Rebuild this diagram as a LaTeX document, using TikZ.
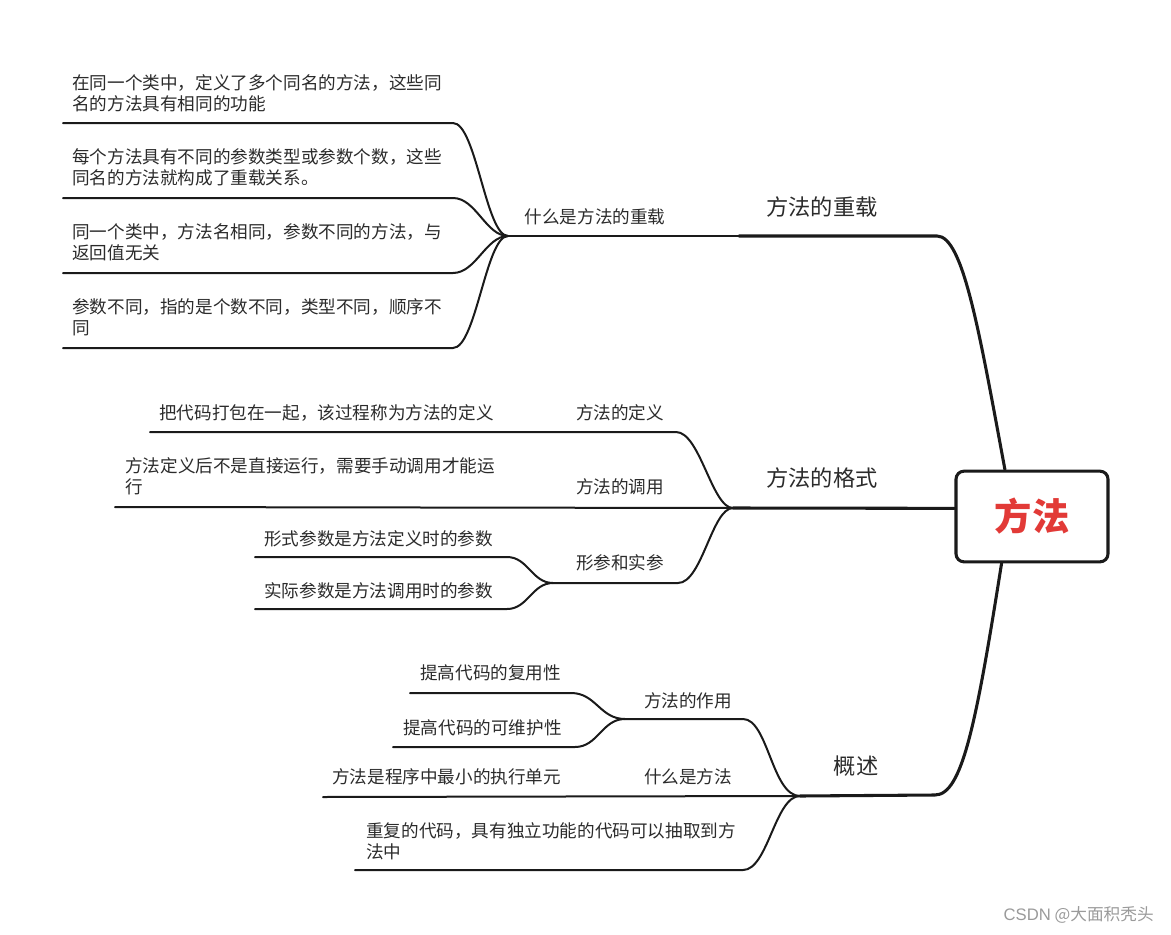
\documentclass[tikz,border=0pt]{standalone}
\usepackage{fontspec}
\setmainfont{Noto Sans CJK SC}
\newfontfamily\wmfont{Liberation Sans}
\definecolor{linec}{HTML}{1A1A1A}
\definecolor{txt}{HTML}{2B2B2B}
\definecolor{rootred}{RGB}{226,58,55}
\definecolor{wmgray}{HTML}{9A9A9A}
\begin{document}
\begin{tikzpicture}[x=0.75pt,y=-0.75pt,
  mainline/.style={line width=2.3pt, draw=linec, line cap=round},
  subline/.style={line width=1.5pt, draw=linec, line cap=round},
  leaf/.style={font=\fontsize{13.2}{15.75}\selectfont, text=txt, inner sep=0pt, anchor=west, align=left},
  lbl/.style={font=\fontsize{13.2}{15.75}\selectfont, text=txt, inner sep=0pt},
  biglbl/.style={font=\fontsize{16.7}{20}\selectfont, text=txt, inner sep=0pt},
  rootbox/.style={draw=linec, line width=2.3pt, rounded corners=6pt, fill=white,
    minimum width=114pt, minimum height=68pt, inner sep=0pt,
    font=\fontsize{28}{32}\selectfont\bfseries, text=rootred}]
\useasboundingbox (0,0) rectangle (1171,935);

% ---------- root ----------
\node[rootbox] (root) at (1032,516.5) {方法};

% ---------- coordinates ----------
% branch 1
\coordinate (b1c) at (937,236);
\coordinate (b1m) at (739,236);
\coordinate (j1) at (508,236);
\coordinate (l1a) at (453,123); \coordinate (l1b) at (63,123);
\coordinate (l2a) at (453,198); \coordinate (l2b) at (63,198);
\coordinate (l3a) at (453,273); \coordinate (l3b) at (63,273);
\coordinate (l4a) at (453,348); \coordinate (l4b) at (63,348);
% branch 2
\coordinate (j2) at (733,508);
\coordinate (d1) at (676,432); \coordinate (d1b) at (150,432);
\coordinate (d2b) at (115,507);
\coordinate (d3) at (678,583); \coordinate (d3j) at (553,583);
\coordinate (p1) at (507,557); \coordinate (p1b) at (255,557);
\coordinate (p2) at (507,609); \coordinate (p2b) at (255,609);
% branch 3
\coordinate (b3c) at (935,795);
\coordinate (j3) at (800,796);
\coordinate (z1) at (743,719); \coordinate (z1j) at (625,719);
\coordinate (u1) at (571,693); \coordinate (u1b) at (410,693);
\coordinate (u2) at (575,747); \coordinate (u2b) at (393,747);
\coordinate (w1b) at (323,797);
\coordinate (r1) at (743,870); \coordinate (r1b) at (355,870);

% ---------- connectors: branch 1 ----------
\draw[mainline] (root.120) .. controls (979,330) and (963,236) .. (b1c) -- (b1m);
\draw[subline] (b1m) -- (j1);
\draw[subline] (j1) .. controls (486,236) and (476,123) .. (l1a) -- (l1b);
\draw[subline] (j1) .. controls (486,236) and (476,198) .. (l2a) -- (l2b);
\draw[subline] (j1) .. controls (486,236) and (476,273) .. (l3a) -- (l3b);
\draw[subline] (j1) .. controls (486,236) and (476,348) .. (l4a) -- (l4b);

% ---------- connectors: branch 2 ----------
\draw[mainline] (root.174) -- (j2);
\draw[subline] (j2) .. controls (712,508) and (700,432) .. (d1) -- (d1b);
\draw[subline] (j2) -- (d2b);
\draw[subline] (j2) .. controls (712,508) and (702,583) .. (d3) -- (d3j);
\draw[subline] (d3j) .. controls (532,583) and (528,557) .. (p1) -- (p1b);
\draw[subline] (d3j) .. controls (532,583) and (528,609) .. (p2) -- (p2b);

% ---------- connectors: branch 3 ----------
\draw[mainline] (root.237) .. controls (976,725) and (962,795) .. (b3c) -- (j3);
\draw[subline] (j3) .. controls (772,796) and (768,719) .. (z1) -- (z1j);
\draw[subline] (z1j) .. controls (600,719) and (596,693) .. (u1) -- (u1b);
\draw[subline] (z1j) .. controls (602,719) and (598,747) .. (u2) -- (u2b);
\draw[subline] (j3) -- (w1b);
\draw[subline] (j3) .. controls (775,796) and (768,870) .. (r1) -- (r1b);

% ---------- labels ----------
\node[biglbl] (t1) at (822,207) {方法的重载};
\node[biglbl] (t2) at (822,478) {方法的格式};
\node[biglbl] (t3) at (856,766) {概述};

\node[lbl] (s1) at (595,217) {什么是方法的重载};
\node[lbl] (s2) at (620,413) {方法的定义};
\node[lbl] (s3) at (620,487) {方法的调用};
\node[lbl] (s4) at (620,563) {形参和实参};
\node[lbl] (s5) at (688,701) {方法的作用};
\node[lbl] (s6) at (688,777) {什么是方法};

\node[leaf] (e1) at (72,93) {在同一个类中，定义了多个同名的方法，这些同\\名的方法具有相同的功能};
\node[leaf] (e2) at (72,167.5) {每个方法具有不同的参数类型或参数个数，这些\\同名的方法就构成了重载关系。};
\node[leaf] (e3) at (72,242.5) {同一个类中，方法名相同，参数不同的方法，与\\返回值无关};
\node[leaf] (e4) at (72,317.5) {参数不同，指的是个数不同，类型不同，顺序不\\同};

\node[leaf] (f1) at (159,413) {把代码打包在一起，该过程称为方法的定义};
\node[leaf] (f2) at (125,476) {方法定义后不是直接运行，需要手动调用才能运\\行};
\node[leaf] (f3) at (264,539) {形式参数是方法定义时的参数};
\node[leaf] (f4) at (264,591) {实际参数是方法调用时的参数};

\node[leaf] (g1) at (420,673) {提高代码的复用性};
\node[leaf] (g2) at (403,728) {提高代码的可维护性};
\node[leaf] (g3) at (332,777) {方法是程序中最小的执行单元};
\node[leaf] (g4) at (366,841) {重复的代码，具有独立功能的代码可以抽取到方\\法中};

% ---------- watermark ----------
\node[anchor=east, inner sep=0pt, text=wmgray, font=\fontsize{12.5}{14}\selectfont] (wm) at (1154,915) {{\wmfont CSDN} @大面积秃头};
\end{tikzpicture}
\end{document}
